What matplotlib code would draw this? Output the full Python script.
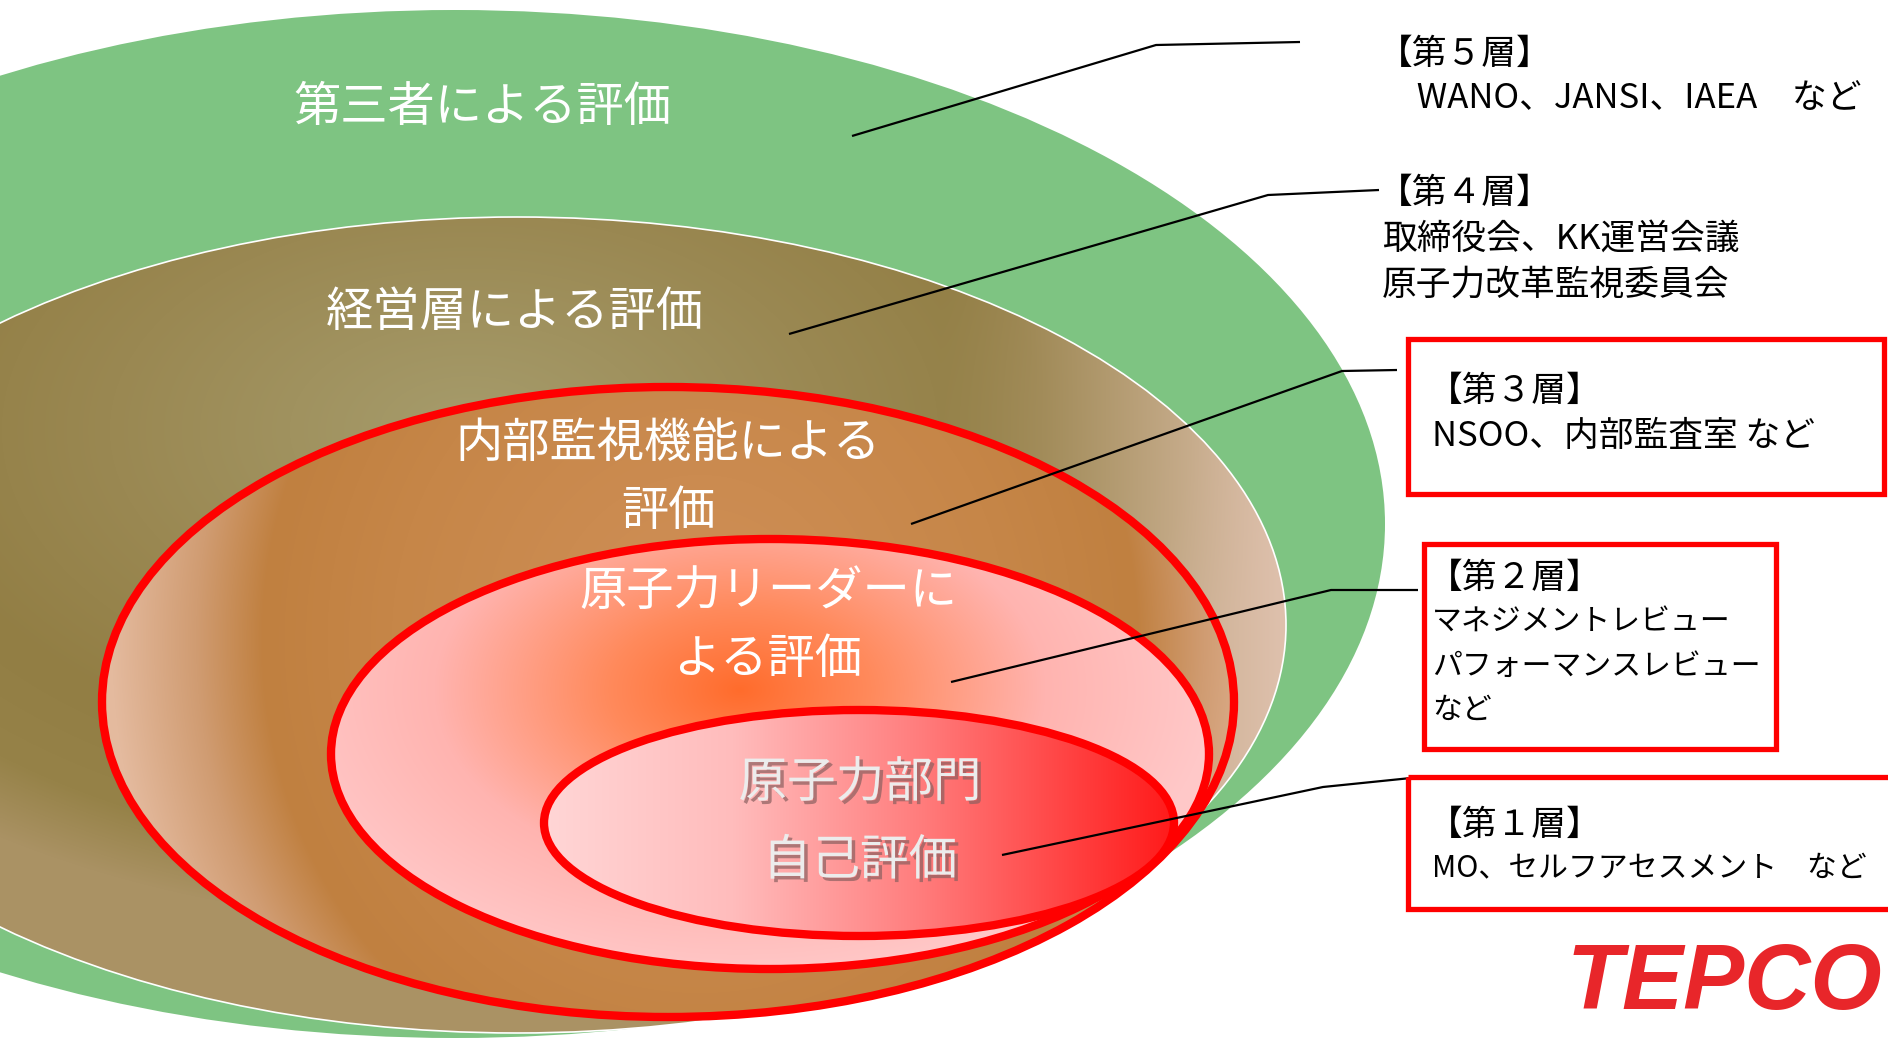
#!/usr/bin/env python3
"""
Five-layer oversight diagram (nested ellipses + layer notes) -> out.png
"""
import numpy as np
import matplotlib
matplotlib.use("Agg")
import matplotlib.pyplot as plt
from matplotlib.patches import Ellipse, Rectangle
import matplotlib.patheffects as pe

plt.rcParams['font.family'] = ['Noto Sans CJK JP', 'DejaVu Sans']

W, H = 1888, 1042

# layer names drawn inside the ellipses, outer -> inner
layer_labels = [
    "第三者による評価",
    "経営層による評価",
    "内部監視機能による\n評価",
    "原子力リーダーに\nよる評価",
    "原子力部門\n自己評価",
]
# notes on the right, layer 5 -> layer 1
layer_titles = ["【第５層】", "【第４層】", "【第３層】", "【第２層】", "【第１層】"]
layer_members = [
    ["　WANO、JANSI、IAEA　など"],
    ["取締役会、KK運営会議", "原子力改革監視委員会"],
    ["NSOO、内部監査室 など"],
    ["マネジメントレビュー", "パフォーマンスレビュー", "など"],
    ["MO、セルフアセスメント　など"],
]
boxed = [False, False, True, True, True]
logo_text = "TEPCO"

# ---- layout (pixels, y down) ----
# ellipse (cx, cy, half-width, half-height), outer -> inner
ELL = [(455, 524, 930, 514),
       (517, 625, 769, 408),
       (668, 702, 566, 315),
       (770, 754, 439, 215),
       (859, 823, 315, 113)]
LABEL_XY = [(482, 108), (515, 313), (668, 478), (768, 626), (860, 822)]
LABEL_GAP = [0, 0, 68, 68, 78]
LABEL_SIZE = [34, 34, 34, 34, 35]
# leader lines: start inside ellipse -> knee -> end near note
LEADERS = [[(852, 136), (1156, 45), (1300, 42)],
           [(789, 334), (1268, 195), (1379, 190)],
           [(911, 524), (1342, 371), (1397, 370)],
           [(951, 682), (1331, 590), (1418, 590)],
           [(1002, 855), (1323, 787), (1411, 778)]]
NOTE_XY = [(1378, 54), (1378, 193), (1428, 391), (1428, 578), (1428, 825)]
NOTE_DY = [45, 46, 45, 44, 44]
BOXES = [None, None, (1408, 339, 476, 155), (1424, 544, 352, 205), (1408, 777, 490, 132)]

yy, xx = np.mgrid[0:H, 0:W].astype(np.float32) + 0.5


def ramp(t, stops):
    t = np.clip(t, 0, 1.2)
    pos = [s[0] for s in stops]
    chans = [np.interp(t, pos, [s[1][i] for s in stops]) for i in range(3)]
    return np.stack(chans, axis=-1) / 255.0


def blend(img, col, w):
    w = np.clip(w, 0, 1)[..., None]
    return img * (1 - w) + np.array(col) / 255.0 * w


def brown_fill():
    r = np.hypot((xx - 470) / 720, (yy - 430) / 430)
    img = ramp(r, [(0, (166, 156, 108)), (0.5, (154, 136, 82)),
                   (0.8, (146, 126, 68)), (1.0, (150, 130, 72)), (1.15, (170, 146, 100))])
    w = np.clip((xx - 940) / 340, 0, 1) ** 1.3
    return blend(img, (222, 192, 172), w)


def red3_fill():
    r = np.hypot((xx - 700) / 560, (yy - 640) / 600)
    return ramp(r, [(0, (208, 144, 88)), (0.55, (198, 134, 72)),
                    (0.78, (192, 128, 64)), (0.9, (208, 156, 114)),
                    (1.05, (228, 186, 158))])


def red2_fill():
    r = np.hypot((xx - 740) / 470, (yy - 690) / 290)
    return ramp(r, [(0, (255, 108, 44)), (0.28, (255, 138, 92)),
                    (0.65, (255, 180, 176)), (1.0, (255, 200, 200))])


def red1_fill():
    t = (xx - 544) / 630
    return ramp(t, [(0, (255, 214, 214)), (0.3, (255, 188, 188)),
                    (0.6, (255, 124, 124)), (0.85, (255, 62, 62)), (1, (255, 26, 26))])


fig = plt.figure(figsize=(W / 100, H / 100), dpi=100)
ax = fig.add_axes([0, 0, 1, 1])
ax.set_xlim(0, W)
ax.set_ylim(H, 0)
ax.axis("off")

fills = [None, brown_fill, red3_fill, red2_fill, red1_fill]
edges = [("none", 0), ("white", 1.2), ("#ff0000", 6), ("#ff0000", 6), ("#ff0000", 6)]
for i, (cx, cy, a, b) in enumerate(ELL):
    if fills[i] is None:
        ax.add_patch(Ellipse((cx, cy), 2 * a, 2 * b, facecolor="#7ec482",
                             edgecolor="none", zorder=1))
        continue
    clip = Ellipse((cx, cy), 2 * a, 2 * b, facecolor="none", edgecolor="none")
    ax.add_patch(clip)
    im = ax.imshow(fills[i](), extent=(0, W, H, 0), interpolation="bilinear",
                   zorder=1 + i)
    im.set_clip_path(clip)
    ec, lw = edges[i]
    ax.add_patch(Ellipse((cx, cy), 2 * a, 2 * b, facecolor="none",
                         edgecolor=ec, linewidth=lw, zorder=1.5 + i))

# labels in the ellipses
for i, lab in enumerate(layer_labels):
    x, y = LABEL_XY[i]
    lines = lab.split("\n")
    for k, ln in enumerate(lines):
        yk = y + (k - (len(lines) - 1) / 2) * LABEL_GAP[i]
        if i == 4:
            ax.text(x, yk, ln, color="#ececec", fontsize=LABEL_SIZE[i], ha="center",
                    va="center", zorder=20,
                    path_effects=[pe.withSimplePatchShadow(offset=(2.5, -2.5),
                                                           shadow_rgbFace="#8a6060",
                                                           alpha=0.7)])
        else:
            ax.text(x, yk, ln, color="white", fontsize=LABEL_SIZE[i], ha="center",
                    va="center", zorder=20)

# leader lines
for pts in LEADERS:
    px, py = zip(*pts)
    ax.plot(px, py, color="black", linewidth=1.6, zorder=25,
            solid_capstyle="butt")

# notes + red boxes
for i in range(5):
    x, y = NOTE_XY[i]
    ax.text(x, y, layer_titles[i], fontsize=25, ha="left", va="center",
            color="black", zorder=30)
    for k, ln in enumerate(layer_members[i]):
        kana = i in (3, 4)
        ax.text(x + 4, y + (k + 1) * NOTE_DY[i], ln, fontsize=21.5 if kana else 25,
                ha="left", va="center", color="black", zorder=30)
    if boxed[i]:
        bx, by, bw, bh = BOXES[i]
        ax.add_patch(Rectangle((bx, by), bw, bh, facecolor="none",
                               edgecolor="#ff0000", linewidth=3.8, zorder=28))

ax.text(1724, 985, logo_text, fontsize=66, fontweight="bold", style="italic",
        family="Liberation Sans", color="#e8262a", ha="center", va="center",
        zorder=30)

fig.savefig("out.png", dpi=100)
